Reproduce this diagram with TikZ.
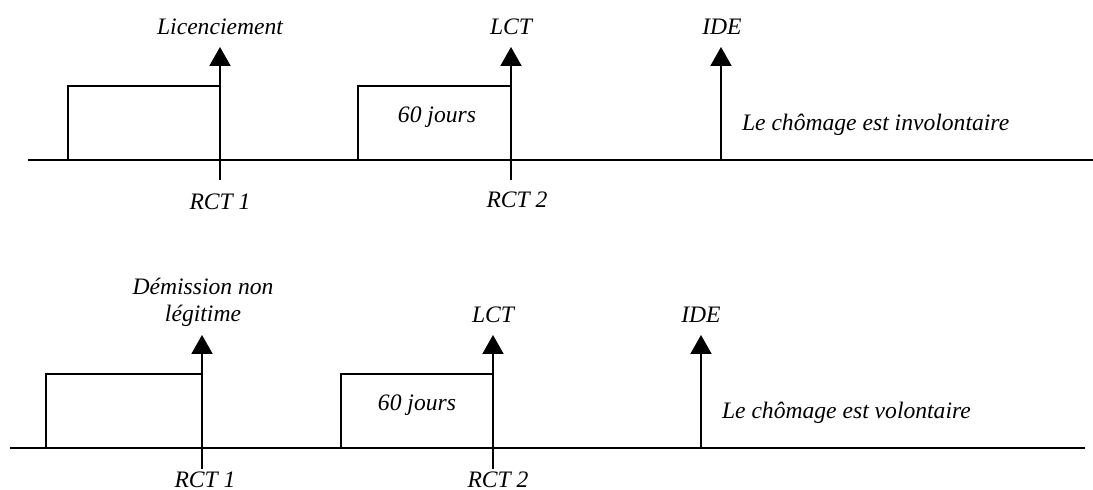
\documentclass[tikz,border=0pt]{standalone}
\usepackage{fontspec}
\setmainfont{Liberation Serif}
\usetikzlibrary{arrows.meta}

\begin{document}
\begin{tikzpicture}[x=0.5pt, y=-0.5pt, line width=1pt,
    font=\fontsize{11.8}{13.5}\selectfont\itshape,
    event/.style={-{Triangle[width=10.5pt,length=9.5pt]}},
    lbl/.style={inner sep=0pt, align=center}]
  \useasboundingbox (0,0) rectangle (1093,490);

  % Top timeline: involuntary unemployment
  \coordinate (t0) at (28,160);
  \coordinate (t1) at (1093,160);
  \coordinate (tb1) at (68,160);
  \coordinate (tr1) at (220,180);
  \coordinate (tb2) at (358,160);
  \coordinate (tr2) at (511,180);
  \coordinate (tide) at (721,161);

  \node[lbl] (licen) at (220,27) {Licenciement};
  \node[lbl] (tlct) at (511,27) {LCT};
  \node[lbl] (tidel) at (722,27) {IDE};
  \node[lbl] (trct1) at (220,202) {RCT 1};
  \node[lbl] (trct2) at (517,200) {RCT 2};
  \node[lbl] (tdays) at (437,117) {60 jours};
  \node[lbl, anchor=west] (tinvol) at (741,125) {Le chômage est involontaire};

  \draw (t0) -- (t1);
  \draw (tb1) |- (220,86);
  \draw (tb2) |- (511,86);
  \draw[event] (tr1) -- (220,47);
  \draw[event] (tr2) -- (511,47);
  \draw[event] (tide) -- (721,47);

  % Bottom timeline: voluntary unemployment
  \coordinate (b0) at (10,448);
  \coordinate (b1) at (1085,448);
  \coordinate (bb1) at (46,448);
  \coordinate (br1) at (202,469);
  \coordinate (bb2) at (341,448);
  \coordinate (br2) at (493,469);
  \coordinate (bide) at (701,449);

  \node[lbl] (demis) at (203,302) {Démission non\\légitime};
  \node[lbl] (blct) at (493,315) {LCT};
  \node[lbl] (bidel) at (701,315) {IDE};
  \node[lbl] (brct1) at (205,480) {RCT 1};
  \node[lbl] (brct2) at (498,480) {RCT 2};
  \node[lbl] (bdays) at (417,405) {60 jours};
  \node[lbl, anchor=west] (bvol) at (721,413) {Le chômage est volontaire};

  \draw (b0) -- (b1);
  \draw (bb1) |- (202,374);
  \draw (bb2) |- (493,374);
  \draw[event] (br1) -- (202,335);
  \draw[event] (br2) -- (493,335);
  \draw[event] (bide) -- (701,335);
\end{tikzpicture}
\end{document}
